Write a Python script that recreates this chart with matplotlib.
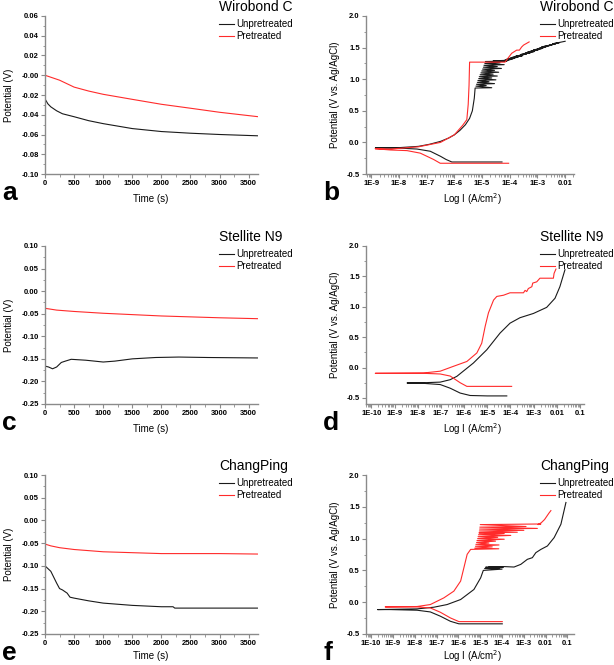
import matplotlib
matplotlib.use("Agg")
import matplotlib.pyplot as plt
from matplotlib.ticker import FixedLocator, MultipleLocator, LogLocator, FuncFormatter, NullFormatter
import numpy as np

plt.rcParams["font.family"] = ["Liberation Sans", "DejaVu Sans"]

W, H = 614, 665
BLACK = "#1a1a1a"
RED = "#ff2b2b"
SPINE = "#8a8a8a"

# ---- open circuit potential vs time (a, c, e) ----
t_a_unp = [0, 50, 100, 200, 300, 500, 750, 1000, 1500, 2000, 2500, 3000, 3650]
v_a_unp = [-0.024, -0.029, -0.032, -0.036, -0.039, -0.042, -0.046, -0.049, -0.054, -0.057, -0.0587, -0.060, -0.0613]
t_a_pre = [0, 100, 250, 500, 750, 1000, 1500, 2000, 2500, 3000, 3650]
v_a_pre = [0.000, -0.002, -0.005, -0.012, -0.016, -0.0193, -0.0244, -0.0294, -0.0334, -0.0375, -0.0419]

t_c_unp = [0, 60, 130, 200, 280, 350, 450, 700, 1000, 1200, 1500, 1900, 2300, 2800, 3650]
v_c_unp = [-0.166, -0.168, -0.172, -0.168, -0.158, -0.155, -0.151, -0.153, -0.157, -0.155, -0.150, -0.147, -0.146, -0.147, -0.148]
t_c_pre = [0, 100, 200, 500, 1000, 1500, 2000, 2500, 3000, 3650]
v_c_pre = [-0.038, -0.040, -0.042, -0.045, -0.049, -0.052, -0.055, -0.057, -0.059, -0.061]

t_e_unp = [0, 100, 200, 250, 300, 380, 430, 500, 750, 1000, 1500, 2000, 2200, 2230, 3000, 3650]
v_e_unp = [-0.100, -0.112, -0.138, -0.150, -0.153, -0.160, -0.169, -0.171, -0.177, -0.182, -0.187, -0.190, -0.190, -0.193, -0.193, -0.193]
t_e_pre = [0, 100, 250, 500, 1000, 1500, 2000, 2500, 3000, 3650]
v_e_pre = [-0.052, -0.056, -0.060, -0.064, -0.069, -0.071, -0.073, -0.073, -0.073, -0.074]

# ---- polarization curves (b, d, f): log10 current density, potential ----
logi_b_unp = [-4.28, -5.0, -6.09, -6.3, -6.5, -6.87, -7.35, -8.0, -8.85, -8.0, -7.3, -6.9, -6.5, -6.2, -6.0,
              -5.8, -5.6, -5.45, -5.35, -5.28, -5.25,
              -4.65, -5.22, -4.85, -5.20, -4.55, -5.17, -4.75, -5.15, -4.50, -5.12, -4.65, -5.10, -4.45,
              -5.07, -4.60, -5.04, -4.40, -5.01, -4.55, -4.98, -4.30, -4.95, -4.45, -4.93, -4.20, -4.90,
              -4.35, -4.88, -4.10, -4.60, -4.05,
              -3.85, -4.25, -3.70, -4.10, -3.55, -3.95, -3.40, -3.80, -3.25, -3.60, -3.10, -3.45, -2.95,
              -3.35, -2.80, -3.15, -2.65, -3.00, -2.50, -2.85, -2.35, -2.60, -2.20, -2.45, -2.00]
v_b_unp = [-0.31, -0.31, -0.31, -0.27, -0.22, -0.14, -0.105, -0.09, -0.085, -0.083, -0.063, -0.03, 0.016, 0.07, 0.12,
           0.19, 0.28, 0.38, 0.50, 0.70, 0.86,
           0.865, 0.89, 0.90, 0.92, 0.93, 0.95, 0.96, 0.98, 0.99, 1.01, 1.02, 1.04, 1.05,
           1.07, 1.08, 1.10, 1.11, 1.13, 1.14, 1.16, 1.17, 1.19, 1.20, 1.22, 1.23, 1.25,
           1.26, 1.28, 1.285, 1.29, 1.30,
           1.33, 1.29, 1.35, 1.32, 1.37, 1.34, 1.40, 1.36, 1.42, 1.39, 1.44, 1.41, 1.47,
           1.43, 1.49, 1.46, 1.52, 1.48, 1.54, 1.51, 1.56, 1.53, 1.58, 1.56, 1.60]
logi_b_pre = [-4.04, -5.0, -6.51, -6.75, -7.23, -7.71, -8.31, -8.86, -8.3, -7.3, -6.5, -6.0, -5.7, -5.55,
              -5.5, -5.47, -5.45, -4.17, -3.93, -3.75, -3.65, -3.57, -3.5, -3.3]
v_b_pre = [-0.33, -0.33, -0.33, -0.27, -0.17, -0.13, -0.12, -0.10, -0.105, -0.07, 0.0, 0.12, 0.27, 0.36,
           0.6, 0.9, 1.27, 1.27, 1.41, 1.46, 1.46, 1.51, 1.54, 1.59]

logi_d_unp = [-4.16, -5.0, -5.74, -6.17, -6.6, -7.03, -7.75, -8.46, -7.75, -7.03, -6.6, -6.31, -5.6, -5.02,
              -4.45, -4.02, -3.59, -3.01, -2.44, -2.08, -1.87, -1.65]
v_d_unp = [-0.467, -0.467, -0.46, -0.42, -0.34, -0.28, -0.26, -0.254, -0.25, -0.24, -0.20, -0.144, 0.074, 0.293,
           0.567, 0.73, 0.82, 0.89, 0.99, 1.14, 1.33, 1.61]
logi_d_pre = [-3.95, -5.0, -5.88, -6.17, -6.6, -7.03, -7.75, -9.83, -7.75, -7.03, -6.46, -5.88, -5.45, -5.24,
              -5.09, -4.95, -4.73, -4.59, -4.3, -4.02, -3.44, -3.37, -3.30, -3.23, -3.08, -3.04, -2.87,
              -2.73, -2.15, -2.12, -2.04]
v_d_pre = [-0.31, -0.31, -0.31, -0.25, -0.14, -0.106, -0.095, -0.095, -0.09, -0.06, 0.02, 0.10, 0.24, 0.40,
           0.68, 0.90, 1.11, 1.17, 1.19, 1.23, 1.23, 1.27, 1.25, 1.30, 1.33, 1.39, 1.41,
           1.47, 1.47, 1.55, 1.62]

logi_f_unp = [-3.99, -5.0, -5.98, -6.37, -6.83, -7.29, -7.9, -9.13, -9.71, -7.9, -7.13, -6.52, -5.9, -5.29,
              -4.98, -4.86, -4.0, -4.8, -4.1, -4.75, -3.95, -4.6, -3.9, -3.45, -3.14, -2.84, -2.61, -2.45,
              -2.22, -1.92, -1.61, -1.3, -1.07]
v_f_unp = [-0.34, -0.34, -0.34, -0.30, -0.22, -0.153, -0.126, -0.116, -0.116, -0.105, -0.079, -0.037, 0.042, 0.20,
           0.384, 0.50, 0.52, 0.53, 0.54, 0.55, 0.545, 0.56, 0.56, 0.553, 0.595, 0.674, 0.70, 0.779,
           0.83, 0.884, 1.016, 1.226, 1.568]
logi_f_pre = [-3.99, -5.0, -5.98, -6.37, -6.83, -7.29, -7.9, -9.36, -7.9, -7.29, -6.67, -6.21, -5.9, -5.75,
              -5.6, -5.44, -4.15, -5.25, -4.45, -5.22, -4.14, -5.2, -4.6, -5.17, -4.3, -5.15, -3.9, -5.12,
              -4.2, -5.1, -3.6, -5.08, -3.9, -5.06, -3.3, -5.04, -3.0, -5.03, -2.38, -5.02, -2.9, -5.0,
              -2.22, -2.35, -2.2, -2.05, -1.95, -1.85, -1.76]
v_f_pre = [-0.305, -0.305, -0.305, -0.247, -0.158, -0.09, -0.074, -0.074, -0.068, -0.037, 0.068, 0.174, 0.332, 0.542,
           0.753, 0.83, 0.84, 0.85, 0.87, 0.88, 0.90, 0.91, 0.93, 0.94, 0.96, 0.97, 0.99, 1.00,
           1.02, 1.03, 1.05, 1.06, 1.08, 1.09, 1.10, 1.12, 1.13, 1.15, 1.16, 1.18, 1.19, 1.22,
           1.23, 1.22, 1.25, 1.30, 1.35, 1.40, 1.44]

names = ["Wirobond C", "Stellite N9", "ChangPing"]
series_labels = ["Unpretreated", "Pretreated"]
letters = ["a", "b", "c", "d", "e", "f"]


def rect(l, t, r, b):
    return [l / W, 1 - b / H, (r - l) / W, (b - t) / H]


def style(ax):
    for s in ["top", "right"]:
        ax.spines[s].set_visible(False)
    for s in ["left", "bottom"]:
        ax.spines[s].set_color(SPINE)
        ax.spines[s].set_linewidth(1.0)
    ax.tick_params(which="both", direction="out", color=SPINE, labelsize=5.5, pad=1.5)
    ax.tick_params(which="major", length=3, width=0.8)
    ax.tick_params(which="minor", length=1.8, width=0.6)
    for lab in ax.get_xticklabels() + ax.get_yticklabels():
        lab.set_fontweight("bold")


def log_fmt(x, pos):
    e = int(round(np.log10(x)))
    if e == -2:
        return "0.01"
    if e == -1:
        return "0.1"
    return f"1E{e}"


fig = plt.figure(figsize=(W / 100, H / 100), dpi=100)

rows = [(16, 174), (246, 404), (475, 634)]
label_off = [25, 25, 22]
time_data = [(t_a_unp, v_a_unp, t_a_pre, v_a_pre, (-0.10, 0.06), 0.02, "%.2f"),
             (t_c_unp, v_c_unp, t_c_pre, v_c_pre, (-0.25, 0.10), 0.05, "%.2f"),
             (t_e_unp, v_e_unp, t_e_pre, v_e_pre, (-0.25, 0.10), 0.05, "%.2f")]
pol_data = [(logi_b_unp, v_b_unp, logi_b_pre, v_b_pre, (-9.19, -1.68), (-0.5, 2.0), 574, range(-9, -1)),
            (logi_d_unp, v_d_unp, logi_d_pre, v_d_pre, (-10.23, -0.83), (-0.6, 2.0), 584, range(-10, 0)),
            (logi_f_unp, v_f_unp, logi_f_pre, v_f_pre, (-10.24, -0.7), (-0.5, 2.0), 574, range(-10, 0))]

leg_kw = dict(bbox_transform=fig.transFigure, loc="upper left", frameon=False, fontsize=7, borderpad=0,
              borderaxespad=0, handlelength=1.5, handletextpad=0.3, labelspacing=0.2)

for i, (top, bot) in enumerate(rows):
    # left: potential vs time
    tu, vu, tp, vp, ylim, step, fmt = time_data[i]
    ax = fig.add_axes(rect(45, top, 258, bot))
    ax.plot(tu, vu, color=BLACK, lw=0.8, label=series_labels[0])
    ax.plot(tp, vp, color=RED, lw=0.8, label=series_labels[1])
    ax.set_xlim(0, 3660)
    ax.set_ylim(*ylim)
    ax.xaxis.set_major_locator(MultipleLocator(500))
    ax.xaxis.set_minor_locator(MultipleLocator(250))
    ax.yaxis.set_major_locator(MultipleLocator(step))
    ax.yaxis.set_minor_locator(MultipleLocator(step / 2))
    ax.yaxis.set_major_formatter(FuncFormatter(lambda v, p, f=fmt: f % v))
    style(ax)
    ax.legend(bbox_to_anchor=(219 / W, 1 - (top + 3) / H), **leg_kw)
    fig.text(219 / W, 1 - (top - 9) / H, names[i], fontsize=10, va="center", ha="left")
    fig.text(151 / W, 1 - (bot + label_off[i]) / H, "Time (s)", fontsize=7, ha="center", va="center")
    fig.text(9 / W, 1 - (top + bot) / 2 / H, "Potential (V)", fontsize=7, rotation=90, ha="center", va="center")
    fig.text(2 / W, 1 - (bot + 26) / H, letters[2 * i], fontsize=19, fontweight="bold", ha="left", va="baseline")

    # right: polarization curves
    lu, pu, lp, pp, xl, yl, right, decades = pol_data[i]
    ax = fig.add_axes(rect(366, top, right, bot))
    ax.plot(10 ** np.array(lu), pu, color=BLACK, lw=0.8, label=series_labels[0])
    ax.plot(10 ** np.array(lp), pp, color=RED, lw=0.8, label=series_labels[1])
    ax.set_xscale("log")
    ax.set_xlim(10 ** xl[0], 10 ** xl[1])
    ax.set_ylim(*yl)
    ax.xaxis.set_major_locator(FixedLocator([10.0 ** e for e in decades]))
    ax.xaxis.set_major_formatter(FuncFormatter(log_fmt))
    ax.xaxis.set_minor_locator(LogLocator(base=10, subs=np.arange(2, 10), numticks=30))
    ax.xaxis.set_minor_formatter(NullFormatter())
    ax.yaxis.set_major_locator(FixedLocator([-0.5, 0.0, 0.5, 1.0, 1.5, 2.0]))
    ax.yaxis.set_minor_locator(MultipleLocator(0.25))
    ax.yaxis.set_major_formatter(FuncFormatter(lambda v, p: "%.1f" % v))
    style(ax)
    ax.legend(bbox_to_anchor=(540 / W, 1 - (top + 3) / H), **leg_kw)
    fig.text(540 / W, 1 - (top - 9) / H, names[i], fontsize=10, va="center", ha="left")
    fig.text(473 / W, 1 - (bot + label_off[i]) / H, "Log I (A/cm$^2$)", fontsize=7, ha="center", va="center")
    fig.text(335 / W, 1 - (top + bot) / 2 / H, "Potential (V vs. Ag/AgCl)", fontsize=7, rotation=90,
             ha="center", va="center")
    fig.text(323 / W, 1 - (bot + 26) / H, letters[2 * i + 1], fontsize=19, fontweight="bold", ha="left",
             va="baseline")

fig.savefig("out.png", dpi=100)
